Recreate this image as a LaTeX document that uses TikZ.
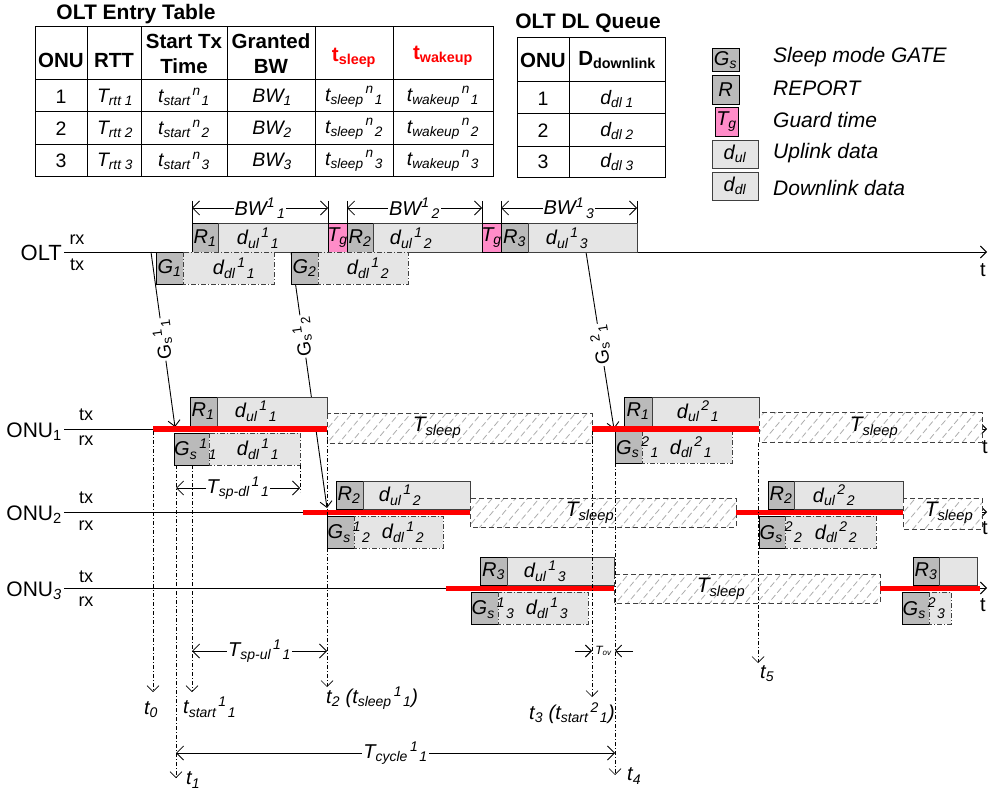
\documentclass[tikz,border=0pt]{standalone}
\usepackage{fontspec}
\setmainfont{Liberation Sans}
\usetikzlibrary{arrows.meta,patterns.meta}
\definecolor{pinkg}{RGB}{255,140,200}
\definecolor{redh}{RGB}{255,0,0}
\newcommand\fsz[1]{\fontsize{#1}{#1}\selectfont}
\newcommand\tri[4]{#1\textsubscript{#2}\kern2pt\textsuperscript{#3}\kern1pt\textsubscript{#4}}
\begin{document}
\begin{tikzpicture}[x=1pt,y=-1pt,
 lbl/.style={font=\fsz{20}\itshape, inner sep=0pt},
 tlb/.style={font=\fsz{19.5}\itshape, inner sep=0pt},
 hdr/.style={font=\fontsize{20.5}{25}\selectfont\bfseries, inner sep=0pt, align=center},
 grid/.style={line width=1pt},
 dk/.style={draw=black, fill=black!27, line width=0.8pt},
 lt/.style={draw=black!75, fill=black!10, line width=0.8pt},
 ltd/.style={draw=black!75, fill=black!10, line width=0.8pt, dash pattern=on 5pt off 2pt on 1pt off 2pt},
 pk/.style={draw=black, fill=pinkg, line width=0.8pt},
 slp/.style={draw=black!75, dash pattern=on 5pt off 3pt, line width=1pt, preaction={fill=white}, pattern={Lines[angle=50,distance=9pt,line width=0.8pt]}, pattern color=black!32},
 tline/.style={line width=0.9pt, -{Straight Barb[length=6pt,width=12pt]}},
 vr/.style={line width=0.7pt, dash pattern=on 4pt off 2pt on 1pt off 2pt},
 vra/.style={vr, -{Straight Barb[length=6pt,width=12pt]}},
 rl/.style={draw=redh, line width=5pt},
 dimar/.style={line width=0.8pt, {Straight Barb[length=7pt,width=14pt]}-{Straight Barb[length=7pt,width=14pt]}},
 wl/.style={lbl, fill=white, inner sep=1pt},
 gsl/.style={font=\fsz{19}, fill=white, inner sep=1.5pt},
 plain/.style={font=\fsz{20}, inner sep=0pt},
 small/.style={font=\fsz{18}, inner sep=0pt},
 slt/.style={font=\fsz{21}\itshape, inner sep=0pt},
 lgt/.style={font=\fsz{21}\itshape, anchor=west, inner sep=0pt},
]
\fill[white] (0,0) rectangle (988,791);
\useasboundingbox (0,0) rectangle (988,791);

% ---------------- OLT Entry Table
\node[font=\fsz{21}\bfseries, inner sep=0pt] (tab1) at (136,14) {OLT Entry Table};
\draw[grid] (35,27) rectangle (493,177);
\foreach \x in {87,141,227,315,393} \draw[grid] (\x,27) -- (\x,177);
\foreach \y in {80,112,145} \draw[grid] (35,\y) -- (493,\y);
\node[hdr] (h1) at (61,60) {ONU};
\node[hdr] (h2) at (114,60) {RTT};
\node[hdr] (h3) at (184,54) {Start Tx\\Time};
\node[hdr] (h4) at (271,54) {Granted\\BW};
\node[hdr, text=redh] (h5) at (354,58) {t\textsubscript{sleep}};
\node[hdr, text=redh] (h6) at (443,56) {t\textsubscript{wakeup}};
\foreach \r/\y in {1/97,2/129,3/161}{
 \node[font=\fsz{19.5}, inner sep=0pt] (n\r) at (61,\y) {\r};
 \node[tlb] (rtt\r) at (115,\y) {T\textsubscript{rtt \r}};
 \node[tlb] (st\r) at (184,\y) {\tri{t}{start}{n}{\r}};
 \node[tlb] (bw\r) at (272,\y) {BW\textsubscript{\r}};
 \node[tlb] (sl\r) at (354,\y) {\tri{t}{sleep}{n}{\r}};
 \node[tlb] (wk\r) at (443,\y) {\tri{t}{wakeup}{n}{\r}};
}

% ---------------- OLT DL Queue
\node[font=\fsz{21}\bfseries, inner sep=0pt] (tab2) at (588,23) {OLT DL Queue};
\draw[grid] (517,38) rectangle (665,178);
\draw[grid] (569,38) -- (569,178);
\foreach \y in {82,114,147} \draw[grid] (517,\y) -- (665,\y);
\node[hdr] (q1) at (543,60) {ONU};
\node[hdr] (q2) at (617,60) {D\textsubscript{downlink}};
\foreach \r/\y in {1/99,2/131,3/162}{
 \node[font=\fsz{19.5}, inner sep=0pt] (qn\r) at (543,\y) {\r};
 \node[tlb] (qd\r) at (617,\y) {d\textsubscript{dl \r}};
}

% ---------------- Legend
\draw[dk] (712,48) rectangle (739,71); \node[lbl] (lg1) at (725.5,60) {G\textsubscript{s}};
\draw[dk] (712,75) rectangle (739,104); \node[lbl] (lg2) at (725.5,90) {R};
\draw[pk] (715,107) rectangle (738,136); \node[lbl] (lg3) at (726.5,122) {T\textsubscript{g}};
\draw[lt] (712,140) rectangle (758,168); \node[lbl] (lg4) at (735,154) {d\textsubscript{ul}};
\draw[lt] (712,172) rectangle (758,200); \node[lbl] (lg5) at (735,186) {d\textsubscript{dl}};
\node[lgt] (lt1) at (773,57) {Sleep mode GATE};
\node[lgt] (lt2) at (773,88) {REPORT};
\node[lgt] (lt3) at (773,120) {Guard time};
\node[lgt] (lt4) at (773,153) {Uplink data};
\node[lgt] (lt5) at (773,188) {Downlink data};

% ---------------- time lines
\coordinate (o0) at (64,252); \coordinate (o1) at (987,252);
\coordinate (a0) at (64,429); \coordinate (a1) at (987,429);
\coordinate (b0) at (64,512); \coordinate (b1) at (987,512);
\coordinate (c0) at (64,588); \coordinate (c1) at (987,588);
\draw[tline] (o0) -- (o1);
\draw[tline] (a0) -- (a1);
\draw[tline] (b0) -- (b1);
\draw[tline] (c0) -- (c1);
\node[font=\fsz{22}, anchor=east, inner sep=0pt] (oltl) at (62,253) {OLT};
\node[small] (orx) at (77,240) {rx};
\node[small] (otx) at (77,265) {tx};
\node[font=\fsz{21}, anchor=east, inner sep=0pt] (u1) at (62,432) {ONU\textsubscript{1}};
\node[small] (u1tx) at (86,415) {tx};
\node[small] (u1rx) at (86,441) {rx};
\node[font=\fsz{21}, anchor=east, inner sep=0pt] (u2) at (62,515) {ONU\textsubscript{2}};
\node[small] (u2tx) at (86,498) {tx};
\node[small] (u2rx) at (86,526) {rx};
\node[font=\fsz{21}, anchor=east, inner sep=0pt] (u3) at (62,591) {ONU\textsubscript{\itshape 3}};
\node[small] (u3tx) at (86,577) {tx};
\node[small] (u3rx) at (86,602) {rx};
\node[plain] (tO) at (983,270) {t};
\node[plain] (tA) at (985,447) {t};
\node[plain] (tB) at (985,528) {t};
\node[plain] (tC) at (983,605) {t};

% ---------------- sleep GATE arrows
\coordinate (g1a) at (151,252); \coordinate (g1b) at (175,427);
\coordinate (g2a) at (291,252); \coordinate (g2b) at (327,508);
\coordinate (g3a) at (586,252); \coordinate (g3b) at (614,429);
\draw[tline] (g1a) -- node[gsl, rotate=98, pos=0.5] (gs1) {G\textsubscript{s}\kern1pt\textsuperscript{1}\kern1pt\textsubscript{1}} (g1b);
\draw[tline] (g2a) -- node[gsl, rotate=98, pos=0.33] (gs2) {G\textsubscript{s}\kern1pt\textsuperscript{1}\kern1pt\textsubscript{2}} (g2b);
\draw[tline] (g3a) -- node[gsl, rotate=99, pos=0.525] (gs3) {G\textsubscript{s}\kern1pt\textsuperscript{2}\kern1pt\textsubscript{1}} (g3b);

% ---------------- OLT boxes
\draw[dk] (192,223) rectangle (218,252);
\draw[lt] (218,223) rectangle (328,252);
\draw[pk] (328,223) rectangle (347,252);
\draw[dk] (347,223) rectangle (373,252);
\draw[lt] (373,223) rectangle (482,252);
\draw[pk] (482,223) rectangle (501,252);
\draw[dk] (501,223) rectangle (528,252);
\draw[lt] (528,223) rectangle (637,252);
\draw[dk] (156,252) rectangle (183,284);
\draw[ltd] (183,252) rectangle (274,284);
\draw[dk] (291,252) rectangle (318,284);
\draw[ltd] (318,252) rectangle (408,284);
\node[lbl] (or1) at (205,238) {R\textsubscript{1}};
\node[lbl] (odu1) at (258,238) {\tri{d}{ul}{1}{1}};
\node[lbl] (otg1) at (337.5,238) {T\textsubscript{g}};
\node[lbl] (or2) at (360,238) {R\textsubscript{2}};
\node[lbl] (odu2) at (411,238) {\tri{d}{ul}{1}{2}};
\node[lbl] (otg2) at (491.5,238) {T\textsubscript{g}};
\node[lbl] (or3) at (514.5,238) {R\textsubscript{3}};
\node[lbl] (odu3) at (567,238) {\tri{d}{ul}{1}{3}};
\node[lbl] (og1) at (169.5,268) {G\textsubscript{1}};
\node[lbl] (odd1) at (234,268) {\tri{d}{dl}{1}{1}};
\node[lbl] (og2) at (304.5,268) {G\textsubscript{2}};
\node[lbl] (odd2) at (368,268) {\tri{d}{dl}{1}{2}};

% BW dimensions
\foreach \x in {192,328,347,482,501,637} \draw[line width=0.8pt] (\x,201) -- (\x,223);
\draw[dimar] (192,208) -- node[wl] (bw1l) {BW\textsuperscript{1}\kern2pt\textsubscript{1}} (328,208);
\draw[dimar] (347,208) -- node[wl] (bw2l) {BW\textsuperscript{1}\kern2pt\textsubscript{2}} (482,208);
\draw[dimar] (501,208) -- node[wl] (bw3l) {BW\textsuperscript{1}\kern2pt\textsubscript{3}} (637,208);

% ---------------- ONU1 boxes
\draw[dk] (190,397) rectangle (217,426);
\draw[lt] (217,397) rectangle (327,426);
\draw[slp] (327,414) rectangle (592,443);
\draw[dk] (174,433) rectangle (209,465);
\draw[ltd] (209,433) rectangle (300,465);
\draw[dk] (624,397) rectangle (652,426);
\draw[lt] (652,397) rectangle (759,426);
\draw[slp] (759,413) rectangle (982,442);
\draw[dk] (615,431) rectangle (642,463);
\draw[ltd] (642,431) rectangle (732,463);
% ONU2 boxes
\draw[dk] (336,481) rectangle (363,509);
\draw[lt] (363,481) rectangle (470,509);
\draw[slp] (470,498) rectangle (736,527);
\draw[dk] (327,516) rectangle (354,548);
\draw[ltd] (354,516) rectangle (443,548);
\draw[dk] (768,481) rectangle (794,509);
\draw[lt] (794,481) rectangle (903,509);
\draw[slp] (903,498) rectangle (982,529);
\draw[dk] (759,516) rectangle (785,548);
\draw[ltd] (785,516) rectangle (876,548);
% ONU3 boxes
\draw[dk] (480,557) rectangle (507,585);
\draw[lt] (507,557) rectangle (614,585);
\draw[slp] (614,574) rectangle (880,603);
\draw[dk] (471,592) rectangle (498,624);
\draw[ltd] (498,592) rectangle (588,624);
\draw[dk] (913,557) rectangle (939,585);
\draw[lt] (939,557) rectangle (977,585);
\draw[dk] (902,592) rectangle (929,624);
\draw[ltd] (929,592) rectangle (951,624);

% red active lines
\draw[rl] (153,429) -- (327,429);
\draw[rl] (592,429) -- (759,429);
\draw[rl] (303,512) -- (470,512);
\draw[rl] (736,512) -- (903,512);
\draw[rl] (446,588) -- (614,588);
\draw[rl] (880,588) -- (980,588);

% sleep labels
\node[slt] (s1) at (437,428) {T\textsubscript{sleep}};
\node[slt] (s2) at (874,428) {T\textsubscript{sleep}};
\node[slt] (s3) at (590,513) {T\textsubscript{sleep}};
\node[slt] (s4) at (949,513) {T\textsubscript{sleep}};
\node[slt] (s5) at (721,589) {T\textsubscript{sleep}};

% ONU box labels
\node[lbl] (a1r) at (203,411) {R\textsubscript{1}};
\node[lbl] (a1u) at (256,411) {\tri{d}{ul}{1}{1}};
\node[lbl, anchor=west] (a1g) at (174,449) {\tri{G}{s}{1}{1}};
\node[lbl] (a1d) at (258,449) {\tri{d}{dl}{1}{1}};
\node[lbl] (a2r) at (638,411) {R\textsubscript{1}};
\node[lbl] (a2u) at (698,411) {\tri{d}{ul}{2}{1}};
\node[lbl, anchor=west] (a2g) at (616,447) {\tri{G}{s}{2}{1}};
\node[lbl] (a2d) at (691,447) {\tri{d}{dl}{2}{1}};
\node[lbl] (b1r) at (349,495) {R\textsubscript{2}};
\node[lbl] (b1u) at (400,495) {\tri{d}{ul}{1}{2}};
\node[lbl, anchor=west] (b1g) at (327.5,532) {\tri{G}{s}{1}{2}};
\node[lbl] (b1d) at (403,532) {\tri{d}{dl}{1}{2}};
\node[lbl] (b2r) at (781,495) {R\textsubscript{2}};
\node[lbl] (b2u) at (834,495) {\tri{d}{ul}{2}{2}};
\node[lbl, anchor=west] (b2g) at (759.5,532) {\tri{G}{s}{2}{2}};
\node[lbl] (b2d) at (836,532) {\tri{d}{dl}{2}{2}};
\node[lbl] (c1r) at (493.5,571) {R\textsubscript{3}};
\node[lbl] (c1u) at (545,571) {\tri{d}{ul}{1}{3}};
\node[lbl, anchor=west] (c1g) at (471.5,608) {\tri{G}{s}{1}{3}};
\node[lbl] (c1d) at (547,608) {\tri{d}{dl}{1}{3}};
\node[lbl] (c2r) at (926,571) {R\textsubscript{3}};
\node[lbl, anchor=west] (c2g) at (902.5,608) {\tri{G}{s}{2}{3}};

% ---------------- vertical reference lines
\draw[vra] (153,431) -- (153,692);
\draw[vra] (176,465) -- (176,778);
\draw[vra] (192,465) -- (192,692);
\draw[vr] (300,465) -- (300,492);
\draw[vra] (327,431) -- (327,687);
\draw[vra] (592,431) -- (592,697);
\draw[vra] (615,463) -- (615,775);
\draw[vra] (758,443) -- (758,663);

% dimensions
\draw[dimar] (176,488) -- node[wl] (tspdl) {\tri{T}{sp-dl}{1}{1}} (300,488);
\draw[dimar] (192,651) -- node[wl] (tspul) {\tri{T}{sp-ul}{1}{1}} (327,651);
\draw[dimar] (176,753) -- node[wl] (tcyc) {\tri{T}{cycle}{1}{1}} (615,753);
\draw[tline] (575,651) -- (592,651);
\draw[tline] (633,651) -- (615,651);
\node[font=\fsz{12}\itshape, inner sep=0pt] (tov) at (603.5,651) {T\textsubscript{ov}};

% time labels
\node[lbl] (t0) at (151,710) {t\textsubscript{0}};
\node[lbl, anchor=west] (ts) at (183,707) {\tri{t}{start}{1}{1}};
\node[lbl, anchor=west] (t2) at (326,698) {t\textsubscript{2} (\tri{t}{sleep}{1}{1})};
\node[lbl, anchor=west] (t1) at (186,780) {t\textsubscript{1}};
\node[lbl, anchor=west] (t3) at (529,713) {t\textsubscript{3} (\tri{t}{start}{2}{1})};
\node[lbl, anchor=west] (t4) at (627,776) {t\textsubscript{4}};
\node[lbl, anchor=west] (t5) at (760,674) {t\textsubscript{5}};
\end{tikzpicture}
\end{document}
